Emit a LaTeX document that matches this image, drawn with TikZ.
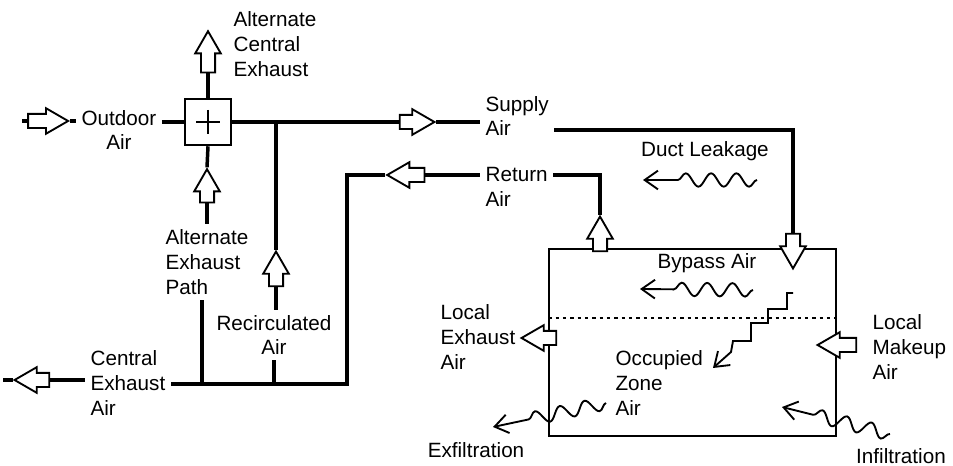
\documentclass[tikz,border=0pt]{standalone}
\usepackage{fontspec}
\setmainfont{Liberation Sans}
\usetikzlibrary{shapes.arrows, arrows.meta, decorations.pathmorphing}
\tikzset{
    txt/.style={inner sep=4pt, font=\fontsize{15.5pt}{18.5pt}\selectfont},
    duct/.style={line width=2.6pt},
    hollow/.style={single arrow, draw, fill=white, line width=1.4pt, inner sep=4.6pt, single arrow head extend=4.3pt, single arrow tip angle=60, minimum height=26pt},
    leak/.style={line width=1.4pt, -{Straight Barb[length=10pt, width=14pt, line width=1.4pt]}, decorate, decoration={snake, amplitude=5pt, segment length=19pt, post length=22pt}}
}

\begin{document}
\begin{tikzpicture}[x=0.75pt, y=-0.75pt]
\useasboundingbox (0,0) rectangle (953,466);

% room with occupied zone
\node[draw, line width=1.4pt, minimum width=215pt, minimum height=140pt, inner sep=0pt] (room) at (692.5,342.5) {};
\coordinate (zone) at (692,318);
\draw[line width=1.1pt, dash pattern=on 2.5pt off 3pt] (zone -| room.west) -- (zone -| room.east);

% air handler
\node[draw, line width=1.4pt, minimum size=35pt, inner sep=0pt] (mix) at (208,122) {};
\draw[line width=1.1pt] (mix.center) +(-12,0) -- +(12,0) (mix.center) +(0,-12) -- +(0,12);

% hollow flow arrows
\node[hollow, minimum height=30pt] (aOut) at (42,121) {};
\node[hollow, shape border rotate=90, minimum height=31pt] (aAltC) at (208,58) {};
\node[hollow, shape border rotate=90, minimum height=25pt] (aAltP) at (207,192) {};
\node[hollow, shape border rotate=90] (aRecirc) at (276,275) {};
\node[hollow, shape border rotate=180] (aCentral) at (38,380) {};
\node[hollow] (aSupply) at (411,122) {};
\node[hollow, shape border rotate=180, minimum height=28pt] (aReturn) at (412,175) {};
\node[hollow, shape border rotate=270] (aIn) at (793,245) {};
\node[hollow, shape border rotate=90] (aUp) at (600,240) {};
\node[hollow, shape border rotate=180] (aLocExh) at (545,338) {};
\node[hollow, shape border rotate=180, minimum height=29pt] (aMakeup) at (843,345) {};

% labels
\node[txt, align=left, anchor=west] (altcentral) at (228,44) {Alternate\\Central\\Exhaust};
\node[txt, align=center] (outdoor) at (119,130) {Outdoor\\Air};
\node[txt, align=left, anchor=west] (altpath) at (160,262) {Alternate\\Exhaust\\Path};
\node[txt, align=center] (recirc) at (274,335) {Recirculated\\Air};
\node[txt, align=left, anchor=west] (central) at (85,383) {Central\\Exhaust\\Air};
\node[txt, align=left, anchor=west] (supply) at (480,116) {Supply\\Air};
\node[txt, align=left, anchor=west] (return) at (480,187) {Return\\Air};
\node[txt] (duct) at (705,151) {Duct Leakage};
\node[txt] (bypass) at (707,263) {Bypass Air};
\node[txt, align=left, anchor=west] (localexh) at (435,337) {Local\\Exhaust\\Air};
\node[txt, align=left, anchor=west] (occupied) at (610,383) {Occupied\\Zone\\Air};
\node[txt, align=left, anchor=west] (makeup) at (867,347) {Local\\Makeup\\Air};
\node[txt] (exfil) at (476,450) {Exfiltration};
\node[txt] (infil) at (901,456) {Infiltration};

% ducts
\draw[duct] (aOut.tail) -- ++(-5,0);
\draw[duct] (aOut.tip) -- (aOut.tip -| outdoor.west);
\draw[duct] (mix.west -| outdoor.east) -- (mix.west);
\draw[duct] (aAltC.tail) -- (mix.north);
\draw[duct] (mix.south) -- (aAltP.tip);
\draw[duct] (aAltP.tail) -- (aAltP.tail |- altpath.north);
\draw[duct] (mix.east) -- (aSupply.tail);
\draw[duct] (aSupply.tip) -- (aSupply.tip -| supply.west);
\coordinate (sc) at (793,130);
\draw[duct] (supply.east |- sc) -- (sc) -- (aIn.tail);
\draw[duct] (aUp.tip) |- (return.east |- aReturn);
\draw[duct] (aReturn.tail) -- (aReturn.tail -| return.west);
\coordinate (rc1) at (347,175);
\coordinate (rc2) at (347,384);
\draw[duct] (aReturn.tip) -- (rc1) -- (rc2) -- (rc2 -| central.east);
\draw[duct] (aRecirc.tip) -- (aRecirc.tip |- mix.east);
\draw[duct] (aRecirc.tail) -- (aRecirc.tail |- recirc.north);
\draw[duct] (recirc.south) -- (recirc.south |- rc2);
\coordinate (ap) at (202,384);
\draw[duct] (ap) -- (ap |- altpath.south);
\draw[duct] (aCentral.tail) -- (aCentral.tail -| central.west);
\draw[duct] (aCentral.tip) -- ++(-10,0);

% leakage paths
\coordinate (dl1) at (757,180);
\coordinate (dl2) at (643,180);
\draw[leak] (dl1) -- (dl2);
\coordinate (by1) at (753,290);
\coordinate (by2) at (640,289);
\draw[leak] (by1) -- (by2);
\coordinate (ex1) at (606,403);
\coordinate (ex2) at (493,427);
\draw[leak] (ex1) -- (ex2);
\coordinate (in1) at (890,434);
\coordinate (in2) at (782,407);
\draw[leak, decoration={post length=17pt}] (in1) -- (in2);
\coordinate (oz1) at (793,293);
\coordinate (oz2) at (713,368);
\draw[line width=1.4pt, -{Straight Barb[length=10pt, width=14pt, line width=1.4pt]}]
  (oz1) -- (787,293) -- (787,309) -- (768,309) -- (768,323) -- (751,323)
  -- (751,341) -- (733,341) -- (731,352) -- (oz2);
\end{tikzpicture}
\end{document}
